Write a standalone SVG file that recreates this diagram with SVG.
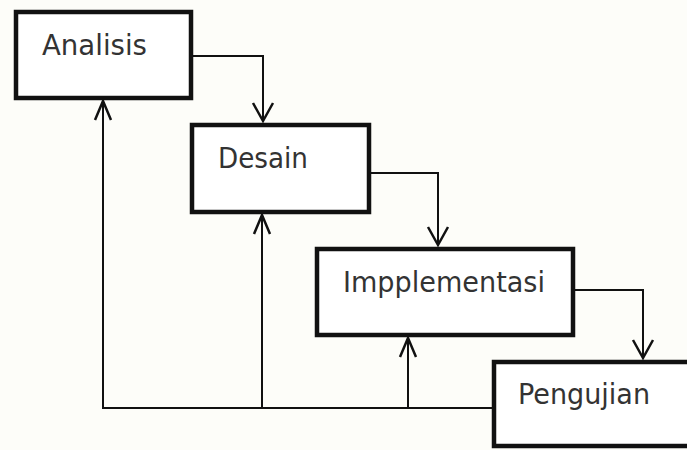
<svg xmlns="http://www.w3.org/2000/svg" width="687" height="450" viewBox="0 0 687 450">
<style>
.box{fill:#ffffff;stroke:#111;stroke-width:4.5}
.lbl{font-family:"DejaVu Sans","Liberation Sans",sans-serif;font-size:28px;fill:#333}
.ln{fill:none;stroke:#111;stroke-width:2}
.ah{fill:none;stroke:#111;stroke-width:2.5}
</style>
<rect width="687" height="450" fill="#fdfdf9"/>
<g id="connectors">
<polyline class="ln" points="192,56 263,56 263,121"/>
<polyline class="ah" points="253,103 263,121 273,103"/>
<polyline class="ln" points="370,173 438,173 438,245"/>
<polyline class="ah" points="428,227 438,245 448,227"/>
<polyline class="ln" points="574,290 643,290 643,358"/>
<polyline class="ah" points="633,340 643,358 653,340"/>
<polyline class="ln" points="492,408 103,408 103,101"/>
<polyline class="ah" points="95,120 103,101 111,120"/>
<polyline class="ln" points="262,408 262,215"/>
<polyline class="ah" points="254,234 262,215 270,234"/>
<polyline class="ln" points="408,408 408,338"/>
<polyline class="ah" points="400,357 408,338 416,357"/>
</g>
<g id="analisis">
<rect class="box" x="16" y="12" width="175" height="86"/>
<text class="lbl" x="42" y="55" textLength="105" lengthAdjust="spacingAndGlyphs">Analisis</text>
</g>
<g id="desain">
<rect class="box" x="192" y="125" width="177" height="87"/>
<text class="lbl" x="218" y="168" textLength="90" lengthAdjust="spacingAndGlyphs">Desain</text>
</g>
<g id="implementasi">
<rect class="box" x="317" y="249" width="256" height="86"/>
<text class="lbl" x="343" y="292" textLength="202" lengthAdjust="spacingAndGlyphs">Impplementasi</text>
</g>
<g id="pengujian">
<rect class="box" x="494" y="362" width="210" height="84"/>
<text class="lbl" x="518" y="404" textLength="132" lengthAdjust="spacingAndGlyphs">Pengujian</text>
</g>
</svg>
